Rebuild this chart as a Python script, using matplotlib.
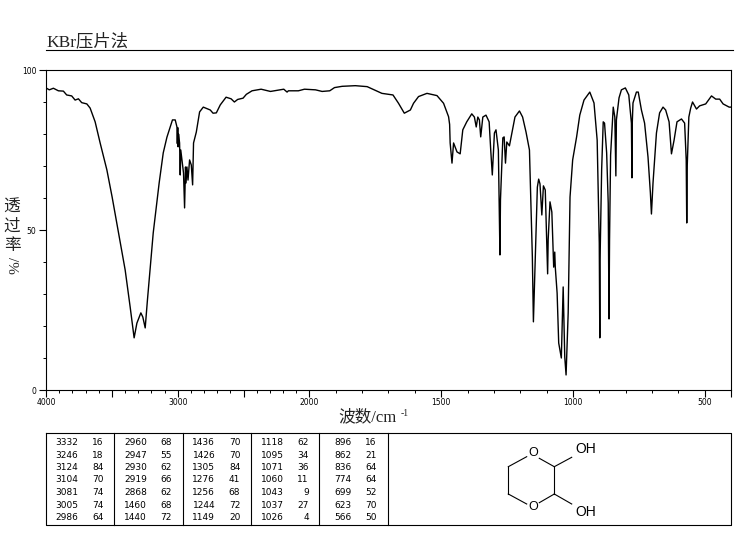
# KBr infrared spectrum with peak table and structure
import numpy as np
import matplotlib
matplotlib.use("Agg")
import matplotlib.pyplot as plt

# spectrum trace
wavenumber = [4000, 3975, 3944, 3906, 3868, 3843, 3805, 3779, 3754, 3729, 3690, 3665,
              3627, 3589, 3538, 3498,
              3437, 3399, 3361, 3331, 3310, 3280, 3265, 3247, 3230, 3186, 3141, 3110,
              3082, 3040, 3019, 3006, 3003, 3000, 2997, 2994, 2986, 2981, 2977, 2956,
              2948, 2941, 2937, 2930, 2922, 2910, 2897, 2887, 2880, 2859, 2834, 2806,
              2753, 2732, 2707, 2677, 2633, 2595, 2570, 2545, 2504, 2479, 2436, 2367,
              2296, 2195, 2170, 2160, 2084, 2038, 1977, 1952, 1923, 1905, 1876, 1826,
              1781, 1725, 1683, 1662, 1640, 1617, 1605, 1586, 1554, 1516, 1491, 1472,
              1468, 1466, 1459, 1453, 1440, 1428, 1418, 1403, 1384, 1374, 1367,
              1361, 1355, 1350, 1342, 1330, 1318, 1312, 1306, 1298, 1292, 1283, 1277,
              1275, 1266, 1261, 1256, 1251, 1241, 1220, 1203, 1191, 1178, 1165, 1160,
              1154, 1150, 1145, 1140, 1135, 1130, 1125, 1118, 1112, 1105, 1096, 1094,
              1087, 1080, 1073, 1069, 1067, 1060, 1054, 1044, 1037, 1031, 1026, 1018,
              1011, 1001, 986, 974, 958, 936, 920, 908, 900, 898, 897, 891,
              885, 880, 872, 866, 863, 861, 857, 847, 841, 837, 835, 825,
              816, 801, 788, 778, 776, 775, 772, 759, 752, 740, 728, 715,
              706, 702, 696, 683, 671, 658, 648, 635, 626, 616, 605, 588,
              576, 570, 568, 566, 560, 553, 546, 531, 519, 496, 474, 458,
              443, 430, 407, 400]
transmittance = [94.4, 93.8, 94.3, 93.5, 93.4, 92.2, 91.9, 90.6, 91.0, 89.8, 89.4, 88.1,
                 83.8, 77.2, 68.8, 60.3,
                 46.3, 37.5, 25.9, 16.3, 20.9, 24.1, 22.8, 19.4, 28.1, 49.1, 64.7, 74.1,
                 79.0, 84.4, 84.4, 82.2, 77.0, 82.0, 76.0, 80.0, 77.2, 67.2, 75.0, 67.8,
                 56.9, 69.7, 64.7, 69.7, 65.6, 71.9, 70.3, 64.1, 77.2, 80.6, 86.9, 88.4,
                 87.5, 86.5, 86.6, 89.1, 91.5, 91.0, 90.0, 90.8, 91.2, 92.4, 93.5, 94.0,
                 93.3, 94.0, 93.1, 93.5, 93.5, 94.0, 93.8, 93.3, 93.5, 94.5, 94.9, 95.1,
                 94.8, 92.7, 92.2, 89.6, 86.5, 87.5, 89.6, 91.7, 92.7, 92.0, 89.6, 85.4,
                 83.0, 77.2, 70.9, 77.2, 74.4, 73.8, 81.3, 83.8, 86.3, 85.3, 82.2,
                 85.3, 84.4, 79.1, 85.3, 85.9, 83.8, 75.0, 67.2, 80.3, 81.3, 75.0, 42.2,
                 59.4, 78.8, 79.1, 70.9, 77.5, 76.3, 85.3, 87.2, 85.3, 80.6, 75.0, 60.3,
                 41.6, 21.3, 35.3, 50.0, 63.4, 65.9, 64.4, 54.7, 63.8, 62.5, 36.3, 46.9,
                 58.8, 55.6, 38.4, 43.1, 38.4, 30.3, 14.7, 10.0, 32.2, 10.3, 4.7, 24.1,
                 60.3, 71.9, 79.1, 85.9, 90.6, 93.1, 89.7, 78.1, 45.9, 16.3, 40.6, 68.8,
                 83.8, 83.4, 74.1, 58.4, 22.2, 46.9, 73.4, 88.4, 85.3, 66.9, 84.4, 91.3,
                 93.8, 94.4, 92.2, 83.4, 66.3, 82.8, 89.7, 93.1, 93.1, 87.5, 83.4, 72.8,
                 61.6, 55.0, 64.7, 80.3, 86.6, 88.4, 87.5, 83.8, 73.8, 78.1, 83.8, 84.7,
                 83.4, 71.9, 52.2, 70.3, 85.3, 88.1, 90.0, 87.8, 88.8, 89.4, 91.9, 90.9,
                 90.9, 89.4, 88.4, 88.4]

# peak table, one list per column block
peak_wn = [[3332, 3246, 3124, 3104, 3081, 3005, 2986],
           [2960, 2947, 2930, 2919, 2868, 1460, 1440],
           [1436, 1426, 1305, 1276, 1256, 1244, 1149],
           [1118, 1095, 1071, 1060, 1043, 1037, 1026],
           [896, 862, 836, 774, 699, 623, 566]]
peak_t = [[16, 18, 84, 70, 74, 74, 64],
          [68, 55, 62, 66, 62, 68, 72],
          [70, 70, 84, 41, 68, 72, 20],
          [62, 34, 36, 11, 9, 27, 4],
          [16, 21, 64, 64, 52, 70, 50]]

xticks_major = [4000, 3500, 3000, 2500, 2000, 1500, 1000, 500, 400]
xtick_labels = ["4000", "", "3000", "", "2000", "1500", "1000", "500", ""]
yticks_major = [0, 50, 100]

SERIF_CJK = ["Liberation Serif", "Noto Sans CJK SC"]
W, H = 737, 539


def forward(x):
    # above 2000 the axis is compressed by half
    x = np.asarray(x, dtype=float)
    return np.where(x > 2000, 2000 + (x - 2000) / 2, x)


def inverse(u):
    u = np.asarray(u, dtype=float)
    return np.where(u > 2000, 2000 + (u - 2000) * 2, u)


fig = plt.figure(figsize=(W / 100, H / 100), dpi=100)

ax = fig.add_axes([46 / W, 1 - 390 / H, (731 - 46) / W, (390 - 70) / H])
ax.set_xscale("function", functions=(forward, inverse))
ax.plot(wavenumber, transmittance, color="black", lw=1.0)
ax.set_xlim(4000, 400)
ax.set_ylim(0, 100)
ax.set_xticks(xticks_major)
ax.set_xticklabels(xtick_labels, fontsize=5.5)
ax.set_xticks(np.arange(400, 4000, 100), minor=True)
ax.set_yticks(yticks_major)
ax.set_yticklabels(["0", "50", "100"], fontsize=5.5)
ax.set_yticks(np.arange(0, 101, 10), minor=True)
ax.tick_params(which="major", length=5, width=0.8, pad=2)
ax.tick_params(axis="x", which="major", pad=1)
ax.tick_params(which="minor", length=2, width=0.7)

# overlay in pixel units for labels, table and structure
ov = fig.add_axes([0, 0, 1, 1])
ov.set_xlim(0, W)
ov.set_ylim(H, 0)
ov.axis("off")
ov.patch.set_alpha(0)

ov.text(46, 42, "KBr压片法", family=SERIF_CJK, fontsize=12.5, va="center", ha="left", color="#222222")
ov.plot([46, 733], [50, 50], color="black", lw=0.8)

ov.text(338, 417, "波数/cm", family=SERIF_CJK, fontsize=12, va="center", ha="left", color="#222222")
ov.text(401, 413, "-1", family=SERIF_CJK, fontsize=7, va="center", ha="left", color="#222222")

for ch, y in zip("透过率", [208, 227, 246]):
    ov.text(12, y, ch, family=SERIF_CJK, fontsize=12, va="center", ha="center", color="#222222")
ov.text(12, 265, "/%", family=SERIF_CJK, fontsize=11, rotation=-90, va="center", ha="center", color="#222222")

# table frame
ov.plot([46, 731, 731, 46, 46], [433, 433, 525, 525, 433], color="black", lw=0.8)
cell_left = [46, 114.5, 183, 251.5, 319.5]
for x in cell_left[1:] + [388]:
    ov.plot([x, x], [433, 525], color="black", lw=0.8)
for left, wn_col, t_col in zip(cell_left, peak_wn, peak_t):
    for i, (wn, t) in enumerate(zip(wn_col, t_col)):
        y = 442.5 + i * 12.5
        ov.text(left + 32.3, y, str(wn), fontsize=6.5, ha="right", va="center")
        ov.text(left + 57.3, y, str(t), fontsize=6.5, ha="right", va="center")

# structure: 1,4-dioxane-2,3-diol
bonds = [((526.7, 456.7), (508.3, 466.7)), ((508.3, 466.7), (508.3, 494)),
         ((508.3, 494), (526.7, 504)), ((539.3, 458.3), (554.3, 466.7)),
         ((554.3, 466.7), (554.3, 494)), ((554.3, 494), (539.3, 502.7)),
         ((554.3, 466.7), (571.7, 457.3)), ((554.3, 494), (571.7, 504))]
for a, b in bonds:
    ov.plot([a[0], b[0]], [a[1], b[1]], color="black", lw=0.8)
for x, y, s in [(533.3, 453.3, "O"), (533.3, 507.3, "O")]:
    ov.text(x, y, s, family="Liberation Sans", fontsize=9, ha="center", va="center")
for x, y, s in [(585.7, 449, "OH"), (585.7, 512, "OH")]:
    ov.text(x, y, s, family="Liberation Sans", fontsize=10, ha="center", va="center")

fig.savefig("out.png", dpi=100)
